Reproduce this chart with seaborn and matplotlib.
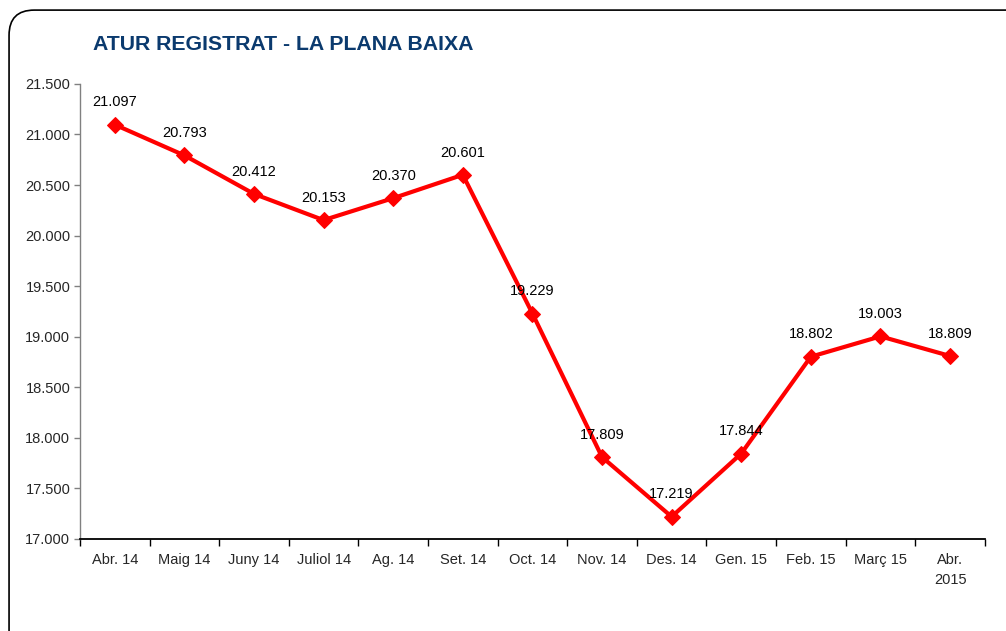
import numpy as np
import pandas as pd
import seaborn as sns
import matplotlib.pyplot as plt
from matplotlib.patches import FancyBboxPatch
from matplotlib.ticker import FuncFormatter

sns.set_style('white')
plt.rcParams['font.family'] = ['Liberation Sans', 'DejaVu Sans']

months = ['Abr. 14', 'Maig 14', 'Juny 14', 'Juliol 14', 'Ag. 14', 'Set. 14', 'Oct. 14',
          'Nov. 14', 'Des. 14', 'Gen. 15', 'Feb. 15', 'Març 15', 'Abr.\n2015']
atur = [21097, 20793, 20412, 20153, 20370, 20601, 19229, 17809, 17219, 17844, 18802, 19003, 18809]

def fmt(v):
    return f'{int(v):,}'.replace(',', '.')

df = pd.DataFrame({'pos': np.arange(len(months)), 'atur': atur})

fig = plt.figure(figsize=(10.06, 6.31), dpi=100)
ax = fig.add_axes([0.0795, 0.146, 0.8995, 0.721])

# rounded frame around the chart
frame = FancyBboxPatch((0.009, -0.05), 1.05, 1.034, boxstyle='round,pad=0,rounding_size=0.025',
                       transform=fig.transFigure, fill=False, edgecolor='black', lw=1.2,
                       mutation_aspect=1006 / 631)
fig.patches.append(frame)

sns.lineplot(data=df, x='pos', y='atur', ax=ax, color='#ff0000', lw=3,
             marker='D', markersize=8, markeredgecolor='#ff0000')

for x, v in zip(df['pos'], atur):
    ax.annotate(fmt(v), (x, v), xytext=(0, 11), textcoords='offset points',
                ha='center', va='bottom', fontsize=10.5, color='black')

ax.set_xlim(-0.5, len(months) - 0.5)
ax.set_ylim(17000, 21500)
ax.set_yticks(np.arange(17000, 21501, 500))
ax.yaxis.set_major_formatter(FuncFormatter(lambda v, p: fmt(v)))
ax.set_xticks(np.arange(len(months)))
ax.set_xticklabels(months, linespacing=1.6)
ax.set_xticks(np.arange(-0.5, len(months)), minor=True)
ax.tick_params(axis='x', which='major', length=0, pad=10, labelsize=10.5)
ax.tick_params(axis='x', which='minor', length=5, width=1, color='black', direction='out', bottom=True)
ax.tick_params(axis='y', length=4, width=1, color='#808080', direction='out', left=True, labelsize=10.5, pad=3)
ax.set_xlabel('')
ax.set_ylabel('')

sns.despine(ax=ax)
ax.spines['left'].set_color('#808080')
ax.spines['bottom'].set_color('black')
ax.spines['left'].set_linewidth(1)
ax.spines['bottom'].set_linewidth(1.3)

fig.text(0.0925, 0.93, 'ATUR REGISTRAT - LA PLANA BAIXA', fontsize=15.3, fontweight='bold',
         color='#0b3a6e', ha='left', va='center')

fig.savefig('out.png', dpi=100)
